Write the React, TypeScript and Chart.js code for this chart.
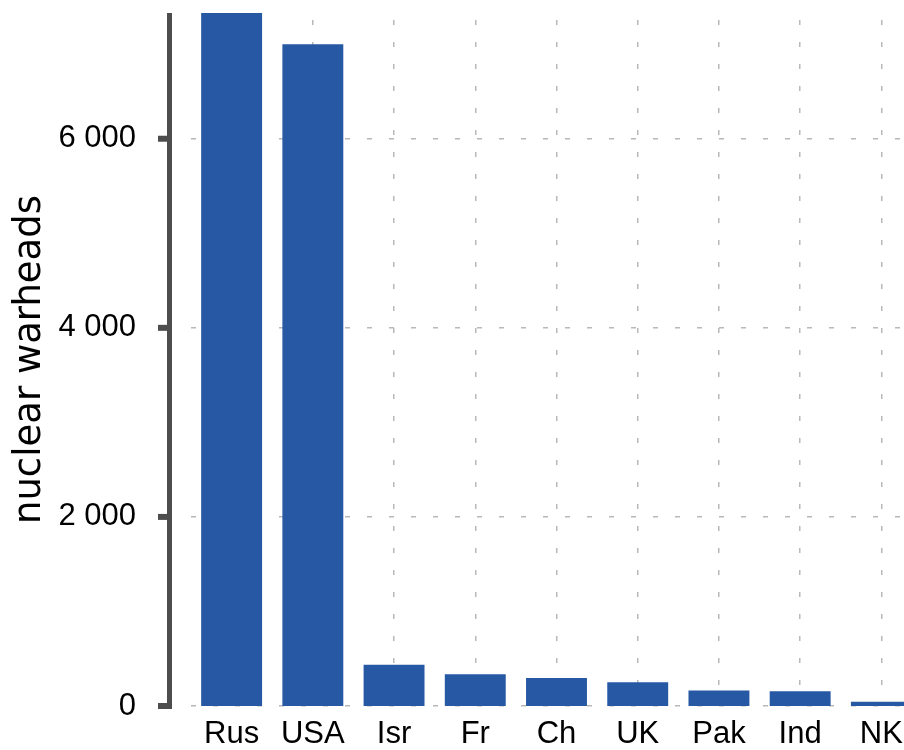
import React, { useEffect, useRef } from "react";
import { Chart, registerables } from "chart.js";

Chart.register(...registerables);

const categories = ["Rus", "USA", "Isr", "Fr", "Ch", "UK", "Pak", "Ind", "NK"];
const warheads = [7330, 7000, 435, 335, 295, 250, 165, 155, 45];
const yTicks = [0, 2000, 4000, 6000];
const yMax = 7330;
const yTitle = "nuclear warheads";

const fmt = (v: number) => String(v).replace(/\B(?=(\d{3})+(?!\d))/g, " ");

const axisPlugin = {
  id: "offsetAxis",
  afterDraw(chart: any) {
    const y = chart.scales.y;
    const ctx = chart.ctx;
    const axisX = chart.chartArea.left - 21.5;
    const top = y.getPixelForValue(yMax);
    const bottom = y.getPixelForValue(0);
    ctx.save();
    ctx.strokeStyle = "#4d4d4d";
    ctx.lineWidth = 5;
    ctx.lineCap = "butt";
    ctx.beginPath();
    ctx.moveTo(axisX, top);
    ctx.lineTo(axisX, bottom + 3);
    ctx.stroke();
    ctx.lineWidth = 6;
    for (const v of yTicks) {
      const py = y.getPixelForValue(v);
      ctx.beginPath();
      ctx.moveTo(axisX - 11.5, py);
      ctx.lineTo(axisX + 2.5, py);
      ctx.stroke();
    }
    ctx.restore();
  },
};

export default function App() {
  const ref = useRef<HTMLCanvasElement | null>(null);

  useEffect(() => {
    if (!ref.current) return;
    const dash = [5, 17];
    const chart = new Chart(ref.current, {
      type: "bar",
      data: {
        labels: categories,
        datasets: [
          {
            data: warheads,
            backgroundColor: "#2758a4",
            borderWidth: 0,
            base: -30,
            categoryPercentage: 1,
            barPercentage: 0.75,
          } as any,
        ],
      },
      options: {
        responsive: false,
        maintainAspectRatio: false,
        animation: false,
        devicePixelRatio: 1,
        layout: { padding: { left: 0, top: 13, right: 0, bottom: 0 } },
        plugins: {
          legend: { display: false },
          tooltip: { enabled: false },
        },
        scales: {
          x: {
            type: "category",
            offset: true,
            grid: {
              offset: false,
              color: "#b8b8b8",
              lineWidth: 1.5,
              drawTicks: false,
              borderDash: dash,
              borderDashOffset: 15,
            } as any,
            border: { display: false, dash: dash, dashOffset: 15 },
            ticks: {
              color: "#000",
              font: { family: "Liberation Sans", size: 31 },
              padding: 10,
              maxRotation: 0,
              autoSkip: false,
            },
            afterFit: (s: any) => {
              s.height = 44;
              s.paddingLeft = 0;
              s.paddingRight = 0;
            },
          },
          y: {
            type: "linear",
            min: 0,
            max: yMax,
            afterBuildTicks: (s: any) => {
              s.ticks = yTicks.map((v) => ({ value: v }));
            },
            grid: {
              color: "#b8b8b8",
              lineWidth: 1.5,
              drawTicks: true,
              tickLength: 50,
              tickColor: "rgba(0,0,0,0)",
              borderDash: dash,
              borderDashOffset: 0,
            } as any,
            border: { display: false, dash: dash, dashOffset: 0 },
            ticks: {
              color: "#000",
              font: { family: "Liberation Sans", size: 31 },
              padding: 5,
              callback: (v: any) => fmt(Number(v)),
            },
            title: {
              display: true,
              text: yTitle,
              color: "#000",
              font: { family: "DejaVu Sans", size: 37 },
              padding: { top: 8, bottom: 0 },
            },
            afterFit: (s: any) => {
              s.width = 191;
              s.paddingTop = 0;
              s.paddingBottom = 0;
            },
          },
        },
      },
      plugins: [axisPlugin],
    } as any);
    return () => chart.destroy();
  }, []);

  return (
    <div
      style={{
        position: "absolute",
        left: 0,
        top: 0,
        width: 904,
        height: 750,
        overflow: "hidden",
        background: "#fff",
      }}
    >
      <canvas
        ref={ref}
        width={922}
        height={750}
        style={{ display: "block", width: 922, height: 750 }}
      />
    </div>
  );
}
